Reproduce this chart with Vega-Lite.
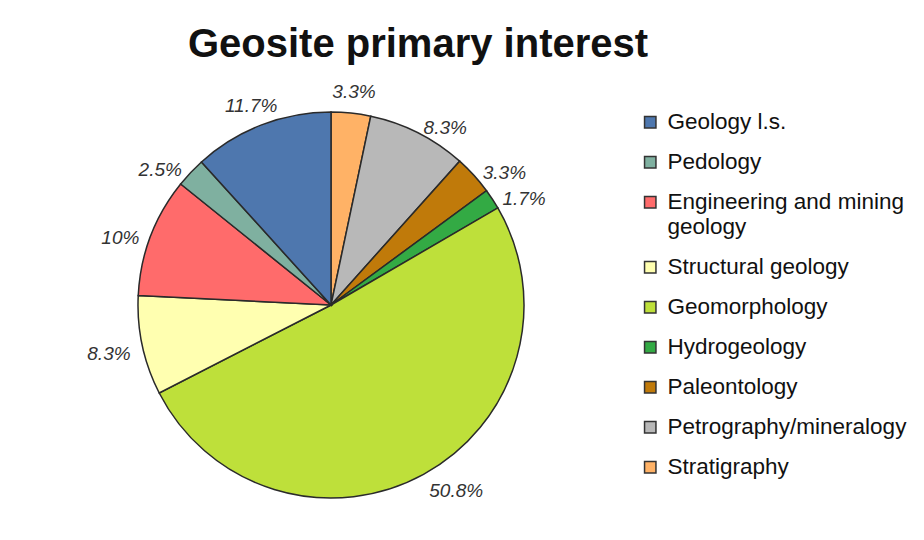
{
  "$schema": "https://vega.github.io/schema/vega-lite/v6.json",
  "autosize": {"type": "none"},
  "width": 400,
  "height": 400,
  "padding": {"left": 131, "top": 105, "right": 393, "bottom": 35},
  "background": "white",
  "title": {
    "text": "Geosite primary interest",
    "font": "Liberation Sans",
    "fontSize": 40,
    "fontWeight": "bold",
    "color": "#111",
    "anchor": "middle",
    "frame": "group",
    "dx": 87,
    "offset": 18
  },
  "data": {
    "values": [
      {"interest": "Stratigraphy", "pct": 3.3, "label": "3.3%", "ord": 1},
      {"interest": "Petrography/mineralogy", "pct": 8.3, "label": "8.3%", "ord": 2},
      {"interest": "Paleontology", "pct": 3.3, "label": "3.3%", "ord": 3},
      {"interest": "Hydrogeology", "pct": 1.7, "label": "1.7%", "ord": 4},
      {"interest": "Geomorphology", "pct": 50.8, "label": "50.8%", "ord": 5},
      {"interest": "Structural geology", "pct": 8.3, "label": "8.3%", "ord": 6},
      {"interest": "Engineering and mining geology", "pct": 10, "label": "10%", "ord": 7},
      {"interest": "Pedology", "pct": 2.5, "label": "2.5%", "ord": 8},
      {"interest": "Geology l.s.", "pct": 11.7, "label": "11.7%", "ord": 9}
    ]
  },
  "encoding": {
    "theta": {"field": "pct", "type": "quantitative", "stack": true},
    "order": {"field": "ord", "type": "quantitative"}
  },
  "layer": [
    {
      "mark": {"type": "arc", "outerRadius": 193, "stroke": "#2a2a2a", "strokeWidth": 1.5},
      "encoding": {
        "color": {
          "field": "interest",
          "type": "nominal",
          "scale": {
            "domain": ["Geology l.s.", "Pedology", "Engineering and mining geology", "Structural geology", "Geomorphology", "Hydrogeology", "Paleontology", "Petrography/mineralogy", "Stratigraphy"],
            "range": ["#4E77AE", "#7FB0A0", "#FF6B6B", "#FFFFB0", "#BEE03A", "#33AA44", "#C07A0A", "#B8B8B8", "#FFB266"]
          },
          "legend": {
            "title": null,
            "orient": "right",
            "offset": 102,
            "padding": 6,
            "symbolType": "square",
            "symbolSize": 130,
            "symbolStrokeColor": "#333",
            "symbolStrokeWidth": 1.5,
            "labelFont": "Liberation Sans",
            "labelFontSize": 22.5,
            "labelColor": "#111",
            "labelLimit": 400,
            "labelOffset": 6,
            "labelLineHeight": 35,
            "rowPadding": 17,
            "labelExpr": "datum.label == 'Engineering and mining geology' ? ['Engineering and mining', 'geology'] : datum.label"
          }
        }
      }
    },
    {
      "mark": {"type": "text", "radius": 222, "dy": 8, "font": "Liberation Sans", "fontSize": 19, "fontStyle": "italic", "color": "#333"},
      "encoding": {"text": {"condition": {"test": "datum.ord == 1 || datum.ord == 9", "field": "label"}, "value": ""}}
    },
    {
      "mark": {"type": "text", "radius": 205, "dy": 6, "align": "left", "font": "Liberation Sans", "fontSize": 19, "fontStyle": "italic", "color": "#333"},
      "encoding": {"text": {"condition": {"test": "datum.ord >= 2 && datum.ord <= 5", "field": "label"}, "value": ""}}
    },
    {
      "mark": {"type": "text", "radius": 205, "dy": 6, "align": "right", "font": "Liberation Sans", "fontSize": 19, "fontStyle": "italic", "color": "#333"},
      "encoding": {"text": {"condition": {"test": "datum.ord >= 6 && datum.ord <= 8", "field": "label"}, "value": ""}}
    }
  ]
}
